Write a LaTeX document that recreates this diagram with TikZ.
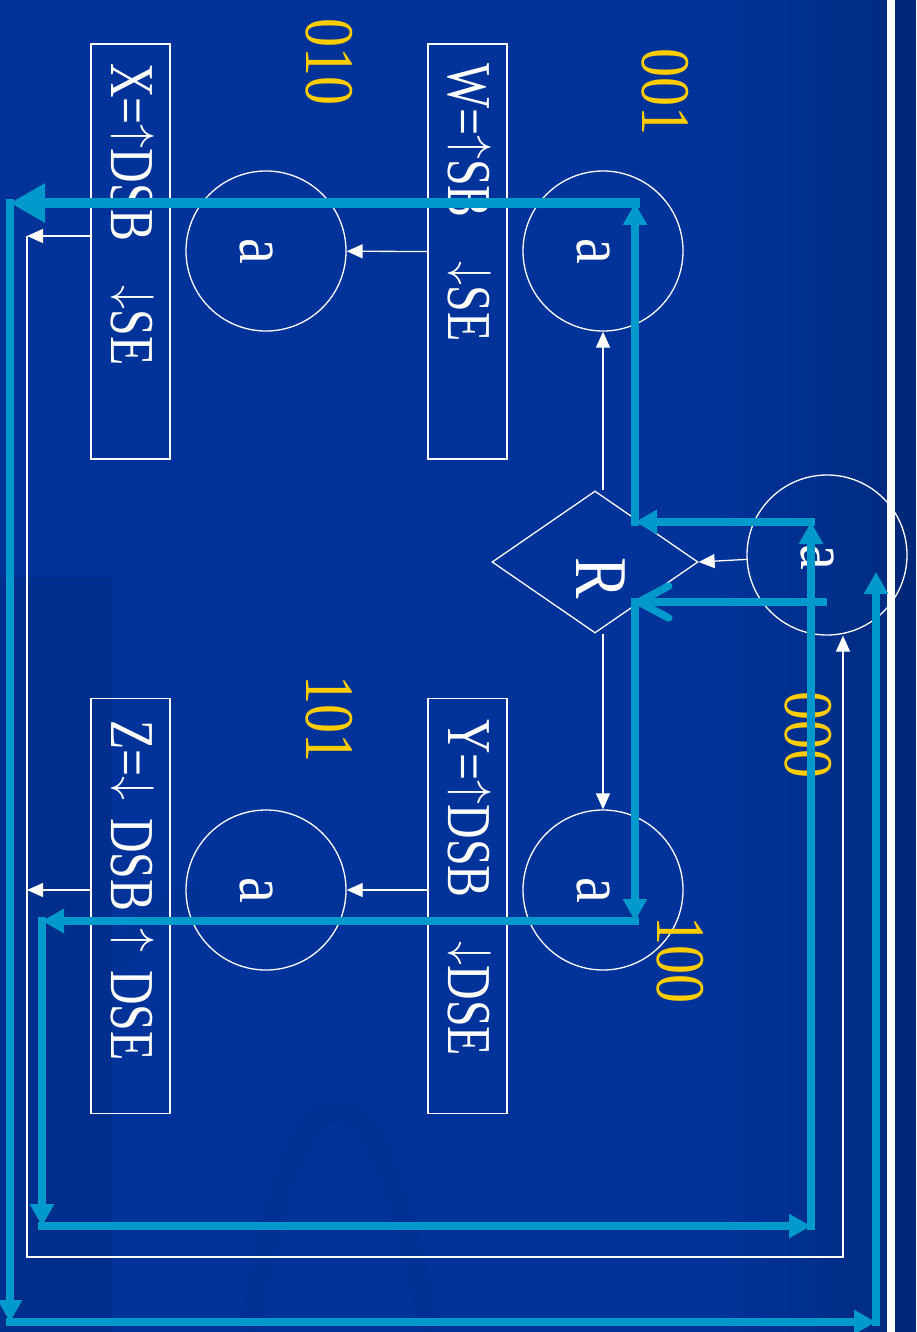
\RequirePackage{fix-cm}
\documentclass[tikz,border=0pt]{standalone}
\usepackage{fontspec}
\setmainfont{Liberation Serif}
\usetikzlibrary{arrows.meta,shapes.geometric,calc}
\definecolor{bgblue}{HTML}{003399}
\definecolor{bgdark}{HTML}{002C82}
\definecolor{bgright}{HTML}{002878}
\definecolor{bgstrip}{HTML}{002E8C}
\definecolor{cyanl}{HTML}{0099CC}
\definecolor{labyel}{HTML}{FFCC00}
\newcommand\vstretch[1]{\scalebox{1}[1.2]{#1}}
\newcommand\bstretch[1]{\scalebox{0.92}[1.2]{#1}}
\newcommand\myua{\raisebox{0.15em}{\scalebox{1}[0.78]{$\uparrow$}}}
\newcommand\myda{\raisebox{0.15em}{\scalebox{1}[0.78]{$\downarrow$}}}
\newcommand\mygap{\hspace{0.92em}}
\newcommand\mysp{\hspace{0.37em}}
\begin{document}
\begin{tikzpicture}[x=1pt,y=-1pt,
  state/.style={circle, draw=white, line width=1.3pt, minimum size=160pt, inner sep=0pt},
  actbox/.style={rectangle, draw=white, line width=1.3pt, minimum width=79pt, minimum height=415pt, inner sep=0pt},
  btxt/.style={text=white, rotate=-90, anchor=base west, inner sep=0pt, font=\fontsize{52}{60}\selectfont},
  atxt/.style={text=white, rotate=-90, inner sep=0pt, font=\fontsize{58}{66}\selectfont},
  ytxt/.style={text=labyel, rotate=-90, inner sep=0pt, font=\fontsize{58}{66}\selectfont},
  wl/.style={draw=white, line width=1.3pt, -{Triangle[length=16pt,width=14pt]}},
  cy/.style={draw=cyanl, line width=7.5pt, line cap=rect, -{Triangle[length=22pt,width=23pt]}}
]
\useasboundingbox (0,0) rectangle (916,1332);
% background
\fill[bgblue] (0,0) rectangle (916,1332);
\shade[left color=bgblue, right color=bgdark] (720,0) rectangle (887,1332);
\fill[bgstrip] (0,577) rectangle (112,1332);
\draw[bgstrip, line width=26pt, opacity=0.35] (30,1332) .. controls (60,1050) and (120,900) .. (200,900);
\draw[bgstrip, line width=22pt, opacity=0.35] (250,1332) .. controls (280,1150) and (310,1110) .. (340,1110) .. controls (370,1110) and (400,1180) .. (430,1332);
\fill[white] (887,0) rectangle (895,1332);
\fill[bgright] (895,0) rectangle (916,1332);

% states
\node[state] (c000) at (827,555) {};
\node[state] (c001) at (603,251) {};
\node[state] (c100) at (603,890) {};
\node[state] (c010) at (266,251) {};
\node[state] (c101) at (266,890) {};
\node[atxt] (a000) at ($(c000)+(-10,2)$) {\vstretch{a}};
\node[atxt] (a001) at ($(c001)+(-10,0)$) {\vstretch{a}};
\node[atxt] (a100) at ($(c100)+(-10,0)$) {\vstretch{a}};
\node[atxt] (a010) at ($(c010)+(-10,0)$) {\vstretch{a}};
\node[atxt] (a101) at ($(c101)+(-10,0)$) {\vstretch{a}};

% decision
\node[diamond, draw=white, line width=1.3pt, minimum width=206pt, minimum height=142pt, inner sep=0pt] (R) at (595,562) {};
\node[atxt, font=\fontsize{62}{70}\selectfont] (Rt) at (601,578) {\vstretch{R}};

% action boxes
\node[actbox] (W) at (467.5,251.5) {};
\node[actbox] (X) at (130.5,251.5) {};
\node[actbox] (Y) at (467.5,906) {};
\node[actbox] (Z) at (130.5,906) {};
\node[btxt] (Wt) at (448,63) {\bstretch{W=\myua SB\mygap\myda SE}};
\node[btxt] (Xt) at (111.5,63) {\bstretch{X=\myua DSB\mygap\myda SE}};
\node[btxt] (Yt) at (448,719) {\bstretch{Y=\myua DSB\mygap\myda DSE}};
\node[btxt] (Zt) at (111.5,720) {\bstretch{Z=\myda\mysp DSB\mysp\myua\mysp DSE}};

% codes
\node[ytxt] (l001) at (665,92) {\vstretch{001}};
\node[ytxt] (l010) at (329,62) {\vstretch{010}};
\node[ytxt] (l000) at (808,735) {\vstretch{000}};
\node[ytxt] (l100) at (680,960) {\vstretch{100}};
\node[ytxt] (l101) at (329,719) {\vstretch{101}};

% white connectors
\draw[wl] (c000) -- (R.east);
\draw[wl] (R.north -| c001) -- (c001.south);
\draw[wl] (R.south -| c100) -- (c100.north);
\draw[wl] (W.west) -- (c010);
\draw[wl] (Y.west |- c101) -- (c101);
\coordinate (xl) at (27,236);
\coordinate (zl) at (27,890);
\coordinate (bl) at (27,1257);
\coordinate (br) at (843,1257);
\draw[wl] (X.west |- xl) -- (xl);
\draw[wl] (Z.west |- zl) -- (zl);
\draw[wl] (xl) -- (bl) -- (br) -- (br |- c000.south);

% cyan cycle
\coordinate (p1) at (811,1226);
\coordinate (p2) at (811,522);
\coordinate (p3) at (635,522);
\coordinate (p4) at (635,203);
\coordinate (p5) at (10,203);
\coordinate (p6) at (10,1322);
\coordinate (p7) at (876,1322);
\coordinate (p8) at (876,572);
\coordinate (q1) at (827,602);
\coordinate (q2) at (635,602);
\coordinate (q3) at (635,921);
\coordinate (q4) at (42,921);
\coordinate (q5) at (42,1226);
\draw[cy] (p1) -- (p2);
\draw[cy] (p2) -- (p3);
\draw[cy] (p3) -- (p4);
\draw[cy, line width=10pt, -{Triangle[length=35pt,width=37pt]}] (p4) -- (p5);
\draw[cy] (p5) -- (p6);
\draw[cy] (p6) -- (p7);
\draw[cy] (p7) -- (p8);
\draw[cy, line cap=butt, -{Straight Barb[length=30pt,width=32pt,round]}] (q1) -- (q2);
\draw[cy] (q2) -- (q3);
\draw[cy] (q3) -- (q4);
\draw[cy] (q4) -- (q5);
\draw[cy] (q5) -- (p1);
\end{tikzpicture}
\end{document}
